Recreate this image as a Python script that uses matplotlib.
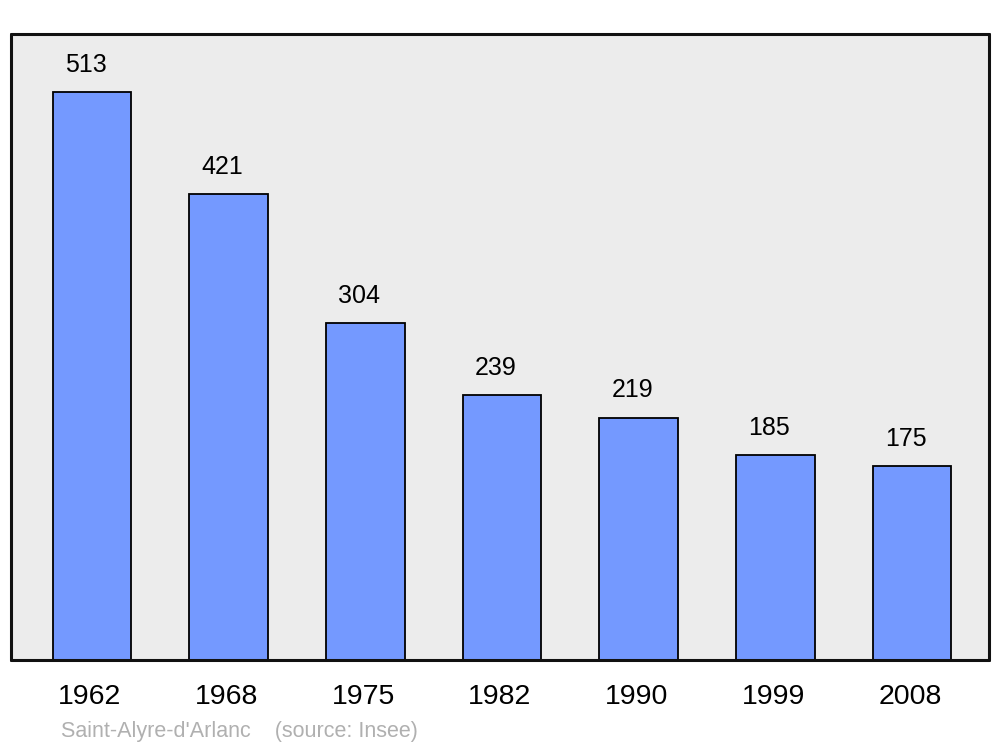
import matplotlib
matplotlib.use('Agg')
import matplotlib.pyplot as plt
import matplotlib.transforms as mtransforms

# population data
years = ['1962', '1968', '1975', '1982', '1990', '1999', '2008']
population = [513, 421, 304, 239, 219, 185, 175]
commune = "Saint-Alyre-d'Arlanc"
source = '(source: Insee)'

plt.rcParams['font.family'] = ['Liberation Sans', 'DejaVu Sans']

fig = plt.figure(figsize=(10, 7.47), dpi=100)
ax = fig.add_axes([0.011, 0.1165, 0.978, 0.838])
ax.set_facecolor('#ececec')

x = range(len(years))
bars = ax.bar(x, population, width=0.575, color='#7499ff', edgecolor='black', linewidth=1.3)
for b, v in zip(bars, population):
    ax.annotate(str(v), (b.get_x() + b.get_width() / 2, v), xytext=(-4.3, 19.5),
                textcoords='offset points', ha='center', va='center', fontsize=18)

ax.set_xlim(-0.593, 6.563)
ax.set_ylim(0, 565.5)
ax.set_xticks(list(x))
ax.set_xticklabels(years, fontsize=20.5)
ax.tick_params(axis='x', length=0, pad=17)
# year labels sit a touch left of the bar centres
shift = mtransforms.ScaledTranslation(-1.5 / 72, 0, fig.dpi_scale_trans)
for lbl in ax.get_xticklabels():
    lbl.set_transform(lbl.get_transform() + shift)
ax.set_yticks([])
for s in ax.spines.values():
    s.set_linewidth(2.2)
    s.set_color('#111111')
    s.set_capstyle('round')
    s.set_joinstyle('round')

fig.text(0.061, 1 - 732 / 747, commune + '    ' + source, color='#b0b0b0',
         fontsize=15.5, va='center', ha='left')

plt.savefig('out.png', dpi=100)
